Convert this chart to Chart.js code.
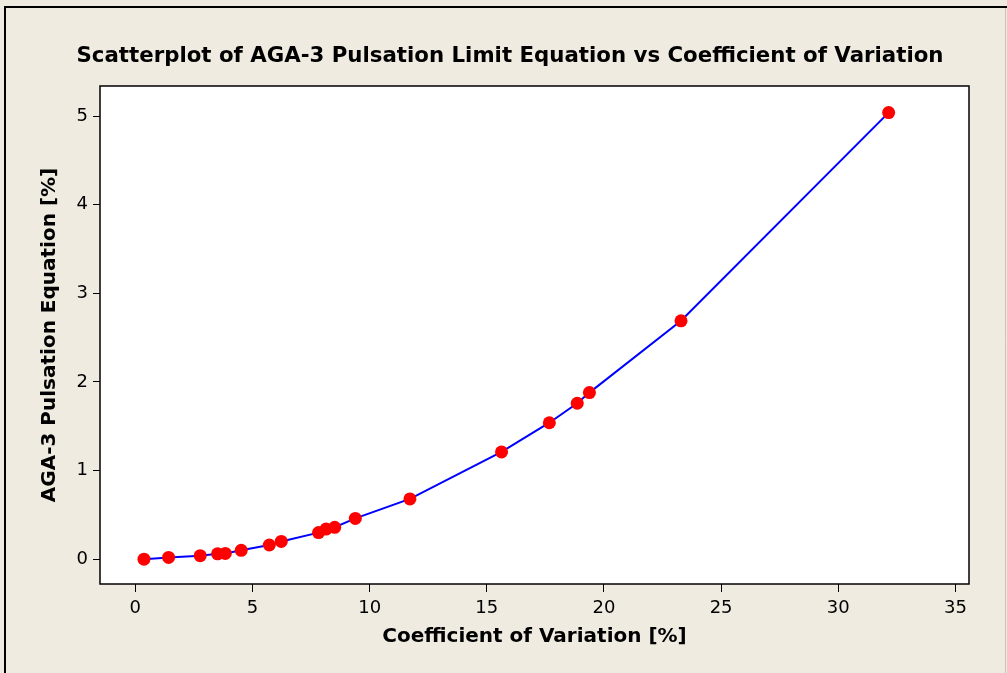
<!DOCTYPE html>
<html lang="en">
<head>
<meta charset="UTF-8">
<title>Scatterplot of AGA-3 Pulsation Limit Equation vs Coefficient of Variation</title>
<script src="https://cdn.jsdelivr.net/npm/chart.js"></script>
<style>
  html, body { margin: 0; padding: 0; background: #efebe1; overflow: hidden; }
</style>
</head>
<body>
<canvas id="scatter" width="1007" height="673"></canvas>

<script>
  // values
  const cv  = [0.37, 1.42, 2.77, 3.51, 3.84, 4.52, 5.72, 6.23, 7.82, 8.14, 8.51, 9.39, 11.72, 15.63, 17.67, 18.86, 19.38, 23.29, 32.15];
  const aga = [0.00, 0.02, 0.04, 0.06, 0.065, 0.10, 0.16, 0.20, 0.30, 0.34, 0.36, 0.46, 0.68, 1.21, 1.54, 1.76, 1.88, 2.69, 5.04];
  const xTicks = [0, 5, 10, 15, 20, 25, 30, 35];
  const yTicks = [0, 1, 2, 3, 4, 5];

  const points = cv.map((x, i) => ({ x: x, y: aga[i] }));

  const frame = {
    id: 'frame',
    beforeDraw(chart) {
      const c = chart.ctx, a = chart.chartArea;
      c.save();
      c.fillStyle = '#efebe1';
      c.fillRect(0, 0, chart.width, chart.height);
      // outer frame: dark top and left, faint right edge
      c.strokeStyle = '#000';
      c.lineWidth = 2;
      c.beginPath();
      c.moveTo(5, chart.height);
      c.lineTo(5, 7);
      c.lineTo(chart.width, 7);
      c.stroke();
      c.strokeStyle = '#c8c4ba';
      c.lineWidth = 1;
      c.beginPath();
      c.moveTo(1005.5, 8);
      c.lineTo(1005.5, chart.height);
      c.stroke();
      c.fillStyle = '#fff';
      c.fillRect(a.left, a.top, a.right - a.left, a.bottom - a.top);
      c.fillStyle = '#000';
      c.font = 'bold 21.3px "DejaVu Sans"';
      c.textAlign = 'center';
      c.textBaseline = 'middle';
      c.fillText('Scatterplot of AGA-3 Pulsation Limit Equation vs Coefficient of Variation', 510, 56);
      c.restore();
    },
    afterDraw(chart) {
      const c = chart.ctx, a = chart.chartArea;
      c.save();
      c.strokeStyle = '#000';
      c.lineWidth = 1.5;
      c.strokeRect(a.left, a.top, a.right - a.left, a.bottom - a.top);
      c.restore();
    }
  };

  const ctx = document.getElementById('scatter');

  new Chart(ctx, {
    type: 'scatter',
    data: {
      datasets: [{
        data: points,
        showLine: true,
        borderColor: '#0000ff',
        borderWidth: 2,
        pointRadius: 6.5,
        pointBackgroundColor: '#ff0000',
        pointBorderColor: '#ff0000',
        pointBorderWidth: 0,
        tension: 0
      }]
    },
    options: {
      responsive: false,
      animation: false,
      layout: { padding: { top: 86, right: 38, left: 0, bottom: 0 } },
      plugins: {
        legend: { display: false },
        title: { display: false },
        tooltip: { enabled: false }
      },
      scales: {
        x: {
          type: 'linear',
          min: -1.507,
          max: 35.58,
          afterFit(scale) { scale.height = 89; },
          afterBuildTicks(scale) { scale.ticks = xTicks.map(v => ({ value: v })); },
          grid: { drawOnChartArea: false, color: '#000', tickLength: 8, tickWidth: 1 },
          border: { display: false },
          ticks: { color: '#000', padding: 6, maxRotation: 0, font: { family: '"DejaVu Sans"', size: 18 } },
          title: {
            display: true,
            text: 'Coefficient of Variation [%]',
            color: '#000',
            font: { family: '"DejaVu Sans"', size: 20, weight: 'bold' },
            padding: { bottom: 24 }
          }
        },
        y: {
          type: 'linear',
          min: -0.28,
          max: 5.34,
          afterFit(scale) { scale.width = 100; },
          afterBuildTicks(scale) { scale.ticks = yTicks.map(v => ({ value: v })); },
          grid: { drawOnChartArea: false, color: '#000', tickLength: 7, tickWidth: 1 },
          border: { display: false },
          ticks: { color: '#000', padding: 5, font: { family: '"DejaVu Sans"', size: 18 } },
          title: {
            display: true,
            text: 'AGA-3 Pulsation Equation [%]',
            color: '#000',
            font: { family: '"DejaVu Sans"', size: 20, weight: 'bold' },
            padding: { top: 38 }
          }
        }
      }
    },
    plugins: [frame]
  });
</script>
</body>
</html>
